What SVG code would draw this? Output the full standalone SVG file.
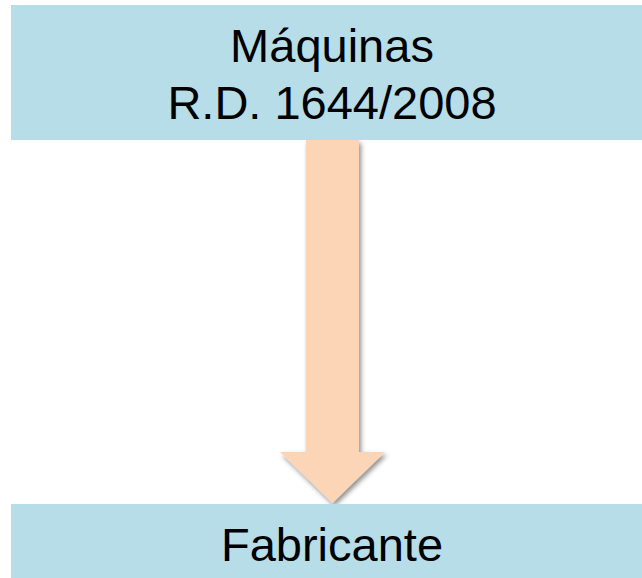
<svg xmlns="http://www.w3.org/2000/svg" width="642" height="578" viewBox="0 0 642 578">
<style>
.box{fill:#B7DDE8;}
.t{font-family:"Liberation Sans",Arial,sans-serif;font-size:47px;fill:#000;text-anchor:middle;}
</style>
<defs>
<filter id="sh" x="-30%" y="-10%" width="160%" height="130%">
<feGaussianBlur in="SourceAlpha" stdDeviation="2.5"/>
<feOffset dx="2" dy="3" result="b"/>
<feComponentTransfer><feFuncA type="linear" slope="0.45"/></feComponentTransfer>
<feMerge><feMergeNode/><feMergeNode in="SourceGraphic"/></feMerge>
</filter>
</defs>
<g id="connectors">
<path d="M306 140 H359 V452 H385 L332.5 503 L280 452 H306 Z" fill="#FBD5B5" filter="url(#sh)"/>
</g>
<g id="node-maquinas">
<rect class="box" x="11" y="5" width="640" height="135"/>
<text class="t" x="332" y="62">Máquinas</text>
<text class="t" x="332" y="119">R.D. 1644/2008</text>
</g>
<g id="node-fabricante">
<rect class="box" x="11" y="504" width="640" height="74"/>
<text class="t" x="332" y="561">Fabricante</text>
</g>
</svg>
